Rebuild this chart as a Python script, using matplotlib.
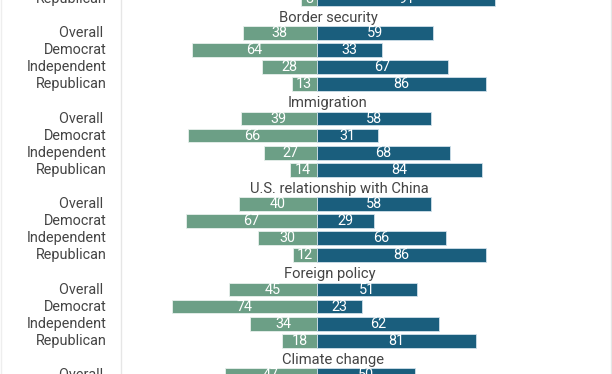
import numpy as np
import matplotlib.pyplot as plt

plt.rcParams['font.family'] = ['Roboto', 'DejaVu Sans']

# groups visible in the crop (first one only shows its last row)
topics = ["", "Border security", "Immigration", "U.S. relationship with China",
          "Foreign policy", "Climate change"]
groups = ["Overall", "Democrat", "Independent", "Republican"]

left_vals = [
    [None, None, None, 8],
    [38, 64, 28, 13],
    [39, 66, 27, 14],
    [40, 67, 30, 12],
    [45, 74, 34, 18],
    [47, None, None, None],
]
right_vals = [
    [None, None, None, 91],
    [59, 33, 67, 86],
    [58, 31, 68, 84],
    [58, 29, 66, 86],
    [51, 23, 62, 81],
    [50, None, None, None],
]

green = '#6c9f86'
blue = '#1a5e7d'
text_col = '#444444'

W, H = 612, 374
fig = plt.figure(figsize=(W / 100, H / 100), dpi=100)
ax = fig.add_axes([0, 0, 1, 1])

# pixel layout
px_per_unit = 1.96
center_px = 317
row_px = 17.1
row0_px = -1.2  # pixel centre of the first (partial) row
title_px = [329, 328, 327, 339, 330, 333]  # title centres, as in the original

ax.set_xlim(-center_px / px_per_unit, (W - center_px) / px_per_unit)
ax.set_ylim((H - row0_px) / row_px, -row0_px / row_px)
ax.axis('off')

fs = 10.4
label_x = (107 - center_px) / px_per_unit
for g, topic in enumerate(topics):
    base = g * 5 - 4  # index of this group's title row
    if topic:
        ax.text((title_px[g] - center_px) / px_per_unit, base + 6 / row_px, topic,
                ha='center', va='baseline', fontsize=fs + 0.2, color=text_col)
    for i, grp in enumerate(groups):
        y = base + 1 + i
        lv = left_vals[g][i]
        rv = right_vals[g][i]
        if lv is None and rv is None:
            continue
        label = grp + " " if grp == "Overall" else grp
        ax.text(label_x, y, label, ha='right', va='center', fontsize=fs, color=text_col)
        if lv is not None:
            ax.barh(y, -lv, height=0.8, color=green, edgecolor='#e8f0ec', linewidth=0.6)
            ax.text(-lv / 2, y, str(lv), ha='center', va='center', fontsize=fs, color='white')
        if rv is not None:
            ax.barh(y, rv, height=0.8, color=blue, edgecolor='#d0e0ea', linewidth=0.6)
            ax.text(rv / 2, y, str(rv), ha='center', va='center', fontsize=fs, color='white')

# thin frame lines
for xp in [121, 611]:
    ax.axvline((xp - center_px) / px_per_unit, color='#e6e6e6', linewidth=1)
ax.axvline((0.5 - center_px) / px_per_unit, color='#eeeeee', linewidth=1)

fig.savefig('out.png', dpi=100)
